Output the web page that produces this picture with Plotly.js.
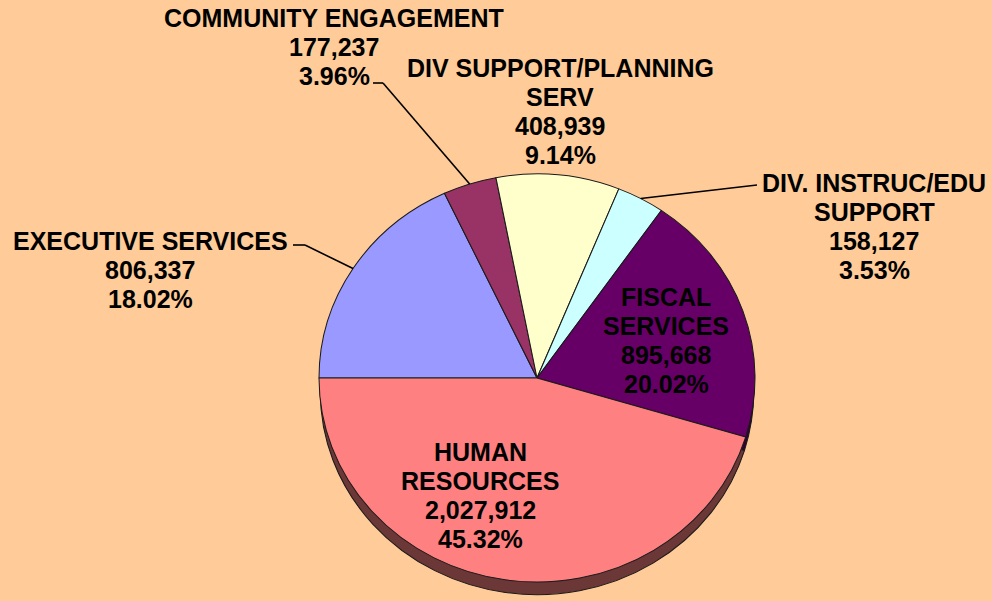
<!DOCTYPE html>
<html><head><meta charset="utf-8">
<script src="https://cdn.plot.ly/plotly-3.0.1.min.js"></script>
<style>html,body{margin:0;padding:0;background:#FFCC99;}</style>
</head><body><div id="chart" style="width:992px;height:601px;"></div>
<script>
// ---- data ----
const categories = ["EXECUTIVE SERVICES", "COMMUNITY ENGAGEMENT", "DIV SUPPORT/PLANNING SERV", "DIV. INSTRUC/EDU SUPPORT", "FISCAL SERVICES", "HUMAN RESOURCES"];
const labelLines = [["EXECUTIVE SERVICES"], ["COMMUNITY ENGAGEMENT"], ["DIV SUPPORT/PLANNING", "SERV"], ["DIV. INSTRUC/EDU", "SUPPORT"], ["FISCAL", "SERVICES"], ["HUMAN", "RESOURCES"]];
const values = [806337, 177237, 408939, 158127, 895668, 2027912];

// ---- styles / layout constants ----
const topColors = ["#9999FF", "#993366", "#FFFFCC", "#CCFFFF", "#660066", "#FF8080"];
const sideColors = ["#4D4D85", "#4D1A33", "#808066", "#668080", "#330033", "#6C3737"];
const W = 992, H = 601;
const cx = 537, cy = 378, R = 210;      // pie drawn as circle of radius R ...
const RX = 218, RY = 204, DEPTH = 15;    // ... then tilted to an ellipse
const startAngle = 270;
// label first-line centers (px), line step, leader elbows (px)
const labelPos = [[150, 241], [334, 18], [560, 68], [874, 183], [666, 297], [480, 452]];
const lineStep = 28.9;
const leaders = [[[293, 245], [305, 245]], [[373, 83], [383, 83]], null, [[757, 185]], null, null];
const fontSize = 25;

const total = values.reduce((a, b) => a + b, 0);
const pct = values.map(v => (v / total * 100).toFixed(2) + "%");
const sx = RX / R, sy = RY / R;

function dom(cyy) {
  return {x: [(cx - R) / W, (cx + R) / W], y: [(H - cyy - R) / H, (H - cyy + R) / H]};
}

const sidePie = {
  type: "pie", values: values, labels: categories, sort: false, direction: "clockwise",
  rotation: startAngle, domain: dom(cy + DEPTH / sy), textinfo: "none", hoverinfo: "skip",
  marker: {colors: sideColors, line: {color: "#1a1a1a", width: 1}}, showlegend: false
};
const topPie = {
  type: "pie", values: values, labels: categories, sort: false, direction: "clockwise",
  rotation: startAngle, domain: dom(cy), textinfo: "none", hoverinfo: "skip",
  marker: {colors: topColors, line: {color: "#1a1a1a", width: 1}}, showlegend: false
};

const annotations = [];
const shapes = [];
let cum = 0;
values.forEach((v, i) => {
  const mid = (startAngle + (cum + v / 2) / total * 360) * Math.PI / 180;
  cum += v;
  const lines = labelLines[i].concat([v.toLocaleString("en-US"), pct[i]]);
  lines.forEach((s, k) => {
    annotations.push({
      xref: "paper", yref: "paper", x: labelPos[i][0] / W, y: 1 - (labelPos[i][1] + k * lineStep) / H,
      xanchor: "center", yanchor: "middle", showarrow: false, align: "center",
      text: "<b>" + s + "</b>",
      font: {family: "Liberation Sans, Arial, sans-serif", size: fontSize, color: "#000"}
    });
  });
  if (leaders[i]) {
    const ex = cx + RX * Math.sin(mid), ey = cy - RY * Math.cos(mid);
    const pts = leaders[i].concat([[ex, ey]]);
    for (let k = 0; k < pts.length - 1; k++) {
      shapes.push({type: "line", xref: "paper", yref: "paper",
        x0: pts[k][0] / W, y0: 1 - pts[k][1] / H, x1: pts[k + 1][0] / W, y1: 1 - pts[k + 1][1] / H,
        line: {color: "#000", width: 1.6}});
    }
  }
});

const layout = {
  width: W, height: H, margin: {l: 0, r: 0, t: 0, b: 0},
  paper_bgcolor: "#FFCC99", plot_bgcolor: "#FFCC99",
  annotations: annotations, shapes: shapes, showlegend: false
};
Plotly.newPlot("chart", [sidePie, topPie], layout, {staticPlot: true, displayModeBar: false}).then(gd => {
  const layer = gd.querySelector(".pielayer");
  if (layer) {
    layer.setAttribute("transform",
      "translate(" + cx + "," + cy + ") scale(" + sx + "," + sy + ") translate(" + (-cx) + "," + (-cy) + ")");
  }
});
</script></body></html>
